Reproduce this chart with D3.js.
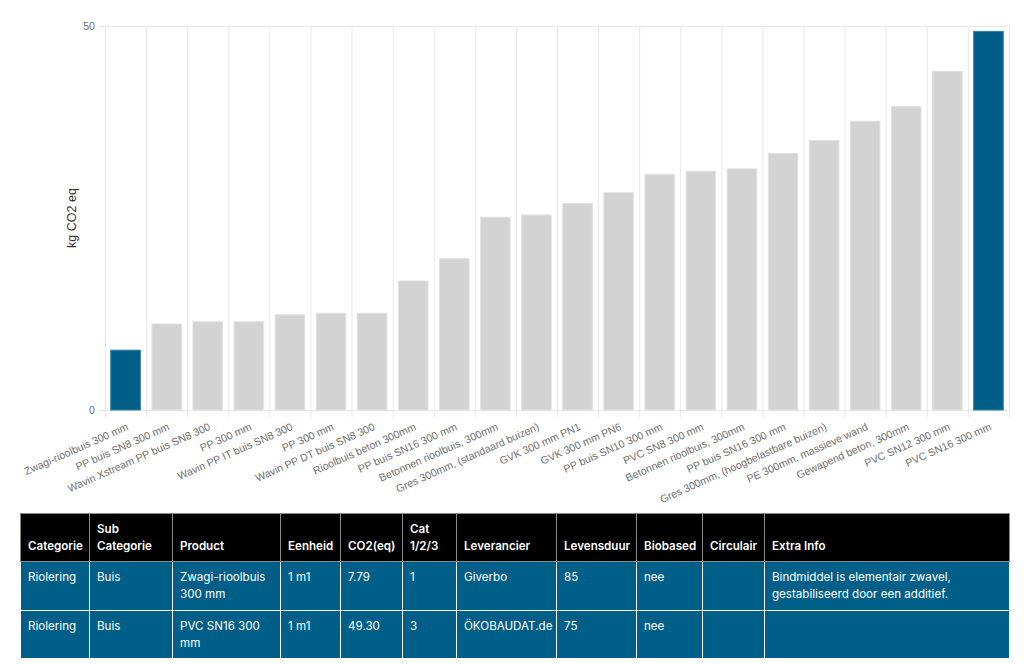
<!DOCTYPE html>
<html>
<head>
<meta charset="utf-8">
<script src="https://cdn.jsdelivr.net/npm/d3@7"></script>
<style>
  body { margin: 0; background: #fff; width: 1024px; height: 664px; overflow: hidden; position: relative; }
  svg { position: absolute; left: 0; top: 0; }
  .ax text { font-family: "Liberation Sans", Arial, Helvetica, sans-serif; font-size: 10.6px; fill: #707070; }
  table { position: absolute; left: 20px; top: 513px; width: 989px; border-collapse: collapse; table-layout: fixed;
    font-family: Inter, "Noto Sans", sans-serif; font-size: 11.6px; line-height: 16.7px; color: #fff; }
  th, td { border: 1px solid rgba(255,255,255,0.5); padding: 7px 7px; text-align: left; overflow: hidden; }
  th { background: #000; font-weight: 600; vertical-align: bottom; border-color: #8a8a8a; }
  td { background: #005f89; font-weight: 400; vertical-align: top; }
</style>
</head>
<body>
<svg id="chart" width="1024" height="512"></svg>
<script>
// product names (sorted by CO2)
const products = [
  "Zwagi-rioolbuis 300 mm", "PP buis SN8 300 mm", "Wavin Xstream PP buis SN8 300", "PP 300 mm",
  "Wavin PP IT buis SN8 300", "PP 300 mm ", "Wavin PP DT buis SN8 300", "Rioolbuis beton 300mm",
  "PP buis SN16 300 mm", "Betonnen rioolbuis, 300mm", "Gres 300mm, (standaard buizen)", "GVK 300 mm PN1",
  "GVK 300 mm PN6", "PP buis SN10 300 mm", "PVC SN8 300 mm", "Betonnen rioolbuis, 300mm ",
  "PP buis SN16 300 mm ", "Gres 300mm, (hoogbelastbare buizen)", "PE 300mm, massieve wand",
  "Gewapend beton, 300mm", "PVC SN12 300 mm", "PVC SN16 300 mm"
];
const co2 = [7.79, 11.2, 11.5, 11.5, 12.4, 12.6, 12.6, 16.8, 19.7, 25.1, 25.4, 26.9,
  28.3, 30.7, 31.1, 31.4, 33.4, 35.1, 37.6, 39.5, 44.1, 49.30];
const highlighted = ["Zwagi-rioolbuis 300 mm", "PVC SN16 300 mm"];
const yTicks = [0, 50];
const yTitle = "kg CO2 eq";

// table data
const headers = ["Categorie", "Sub Categorie", "Product", "Eenheid", "CO2(eq)", "Cat 1/2/3",
  "Leverancier", "Levensduur", "Biobased", "Circulair", "Extra Info"];
const colWidths = [69, 83, 108, 60, 62, 54, 100, 80, 66, 62, 245];
const rows = [
  ["Riolering", "Buis", "Zwagi-rioolbuis 300 mm", "1 m1", "7.79", "1", "Giverbo", "85", "nee", "",
    "Bindmiddel is elementair zwavel, gestabiliseerd door een additief."],
  ["Riolering", "Buis", "PVC SN16 300 mm", "1 m1", "49.30", "3", "ÖKOBAUDAT.de", "75", "nee", "", ""]
];

const margin = { left: 105, right: 15, top: 26, bottom: 102 };
const width = 1024, height = 512;
const svg = d3.select("#chart");

const x = d3.scaleBand()
  .domain(products)
  .range([margin.left, width - margin.right])
  .paddingInner(0.28)
  .paddingOuter(0.14);

const y = d3.scaleLinear()
  .domain([0, 50])
  .range([height - margin.bottom, margin.top]);

const step = x.step();
const plotW = width - margin.right - margin.left;

// vertical grid between categories
svg.append("g")
  .selectAll("line")
  .data(d3.range(products.length + 1))
  .enter().append("line")
  .attr("x1", i => margin.left + i * step + 0.5)
  .attr("x2", i => margin.left + i * step + 0.5)
  .attr("y1", margin.top)
  .attr("y2", y(0) + 7)
  .attr("stroke", "#e8e8e8");

// y axis with horizontal grid
const yAxis = svg.append("g")
  .attr("class", "ax")
  .attr("transform", "translate(" + margin.left + ",0)")
  .call(d3.axisLeft(y).tickValues(yTicks).tickSize(-plotW).tickPadding(10));
yAxis.select(".domain").remove();
yAxis.selectAll("line").attr("x1", -6).attr("stroke", "#e8e8e8");

// bars
svg.append("g")
  .selectAll("rect")
  .data(products)
  .enter().append("rect")
  .attr("x", d => x(d))
  .attr("y", (d, i) => y(co2[i]))
  .attr("width", x.bandwidth())
  .attr("height", (d, i) => y(0) - y(co2[i]))
  .attr("fill", d => highlighted.includes(d) ? "#005f89" : "#d3d3d3")
  .attr("stroke", d => highlighted.includes(d) ? "#2f7ea3" : "#e2e2e2")
  .attr("stroke-width", 1);

// x axis labels
const xAxis = svg.append("g")
  .attr("class", "ax")
  .attr("transform", "translate(0," + y(0) + ")")
  .call(d3.axisBottom(x).tickSize(0));
xAxis.select(".domain").remove();
xAxis.selectAll("text")
  .text(d => d.trim())
  .attr("x", 0).attr("y", 0).attr("dy", "0.35em")
  .attr("text-anchor", "end")
  .attr("transform", "translate(2,16) rotate(-24)");

// y title
svg.append("text")
  .attr("transform", "translate(76," + (margin.top + y.range()[0]) / 2 + ") rotate(-90)")
  .attr("text-anchor", "middle")
  .attr("font-family", "Liberation Sans, Arial, sans-serif")
  .attr("font-size", "12.5px")
  .attr("fill", "#333")
  .text(yTitle);

// table
const table = d3.select("body").append("table");
table.append("colgroup").selectAll("col")
  .data(colWidths).enter().append("col")
  .style("width", d => d + "px");
table.append("thead").append("tr")
  .selectAll("th").data(headers).enter().append("th").text(d => d);
table.append("tbody").selectAll("tr")
  .data(rows).enter().append("tr")
  .selectAll("td").data(d => d).enter().append("td").text(d => d);
</script>
</body>
</html>
